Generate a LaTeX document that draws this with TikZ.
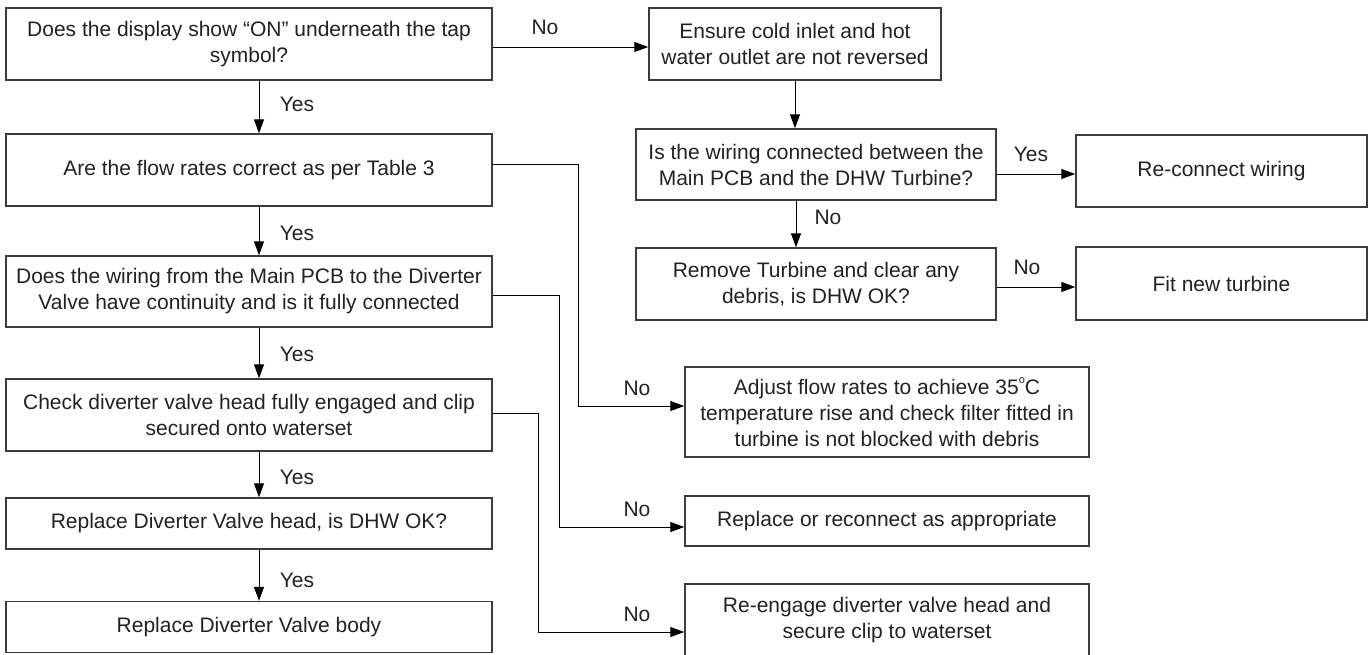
\documentclass[tikz,border=0pt]{standalone}
\usepackage{fontspec}
\setmainfont{Liberation Sans}
\usetikzlibrary{arrows.meta}
\definecolor{txt}{HTML}{222222}
\definecolor{brd}{HTML}{3C3C3C}
\tikzset{
  box/.style={draw=brd, line width=1.4pt, rectangle, inner sep=0pt, align=center, text=txt,
    font=\fontsize{21}{26}\selectfont},
  lab/.style={text=txt, font=\fontsize{21}{26}\selectfont, inner sep=0pt},
  arr/.style={draw=black, line width=1pt, -{Triangle[length=14pt,width=10pt]}},
}
\begin{document}
\begin{tikzpicture}[x=1pt,y=-1pt]
\useasboundingbox[fill=white] (0,0) rectangle (1369,654);
% left column
\node[box, minimum width=486pt, minimum height=72pt] (b1) at (249,44) {Does the display show “ON” underneath the tap\\symbol?};
\node[box, minimum width=486pt, minimum height=72pt] (b2) at (249,170) {Are the flow rates correct as per Table 3};
\node[box, minimum width=486pt, minimum height=71pt] (b3) at (249,291.5) {Does the wiring from the Main PCB to the Diverter\\Valve have continuity and is it fully connected};
\node[box, minimum width=486pt, minimum height=72pt] (b4) at (249,415) {Check diverter valve head fully engaged and clip\\secured onto waterset};
\node[box, minimum width=486pt, minimum height=51pt] (b5) at (249,523.5) {Replace Diverter Valve head, is DHW OK?};
\node[box, minimum width=486pt, minimum height=51pt] (b6) at (249,627) {Replace Diverter Valve body};
% upper right
\node[box, minimum width=292pt, minimum height=72pt] (en) at (795,44) {Ensure cold inlet and hot\\water outlet are not reversed};
\node[box, minimum width=360pt, minimum height=71pt] (wc) at (816,164.5) {Is the wiring connected between the\\Main PCB and the DHW Turbine?};
\node[box, minimum width=291pt, minimum height=72pt] (rc) at (1221.5,171) {Re-connect wiring};
\node[box, minimum width=360pt, minimum height=72pt] (rm) at (816,284) {Remove Turbine and clear any\\debris, is DHW OK?};
\node[box, minimum width=291pt, minimum height=73pt] (ft) at (1221.5,283.5) {Fit new turbine};
% lower right
\node[box, minimum width=404pt, minimum height=90pt] (ad) at (887,412) {Adjust flow rates to achieve 35\raisebox{0.5em}{\fontsize{11}{11}\selectfont o}C\\temperature rise and check filter fitted in\\turbine is not blocked with debris};
\node[box, minimum width=404pt, minimum height=50pt] (rp) at (887,521) {Replace or reconnect as appropriate};
\node[box, minimum width=404pt, minimum height=72pt] (re) at (887,620) {Re-engage diverter valve head and\\secure clip to waterset};
% vertical Yes arrows
\draw[arr] ([xshift=10pt]b1.south) -- ([xshift=10pt]b2.north);
\draw[arr] ([xshift=10pt]b2.south) -- ([xshift=10pt]b3.north);
\draw[arr] ([xshift=10pt]b3.south) -- ([xshift=10pt]b4.north);
\draw[arr] ([xshift=10pt]b4.south) -- ([xshift=10pt]b5.north);
\draw[arr] ([xshift=10pt]b5.south) -- ([xshift=10pt]b6.north);
\node[lab] (y1) at (297,104) {Yes};
\node[lab] (y2) at (297,233) {Yes};
\node[lab] (y3) at (297,354) {Yes};
\node[lab] (y4) at (297,477) {Yes};
\node[lab] (y5) at (297,580) {Yes};
% top No
\draw[arr] ([yshift=-3pt]b1.east) -- ([yshift=-3pt]b1.east -| en.west);
\node[lab] (n1) at (545,27) {No};
% right column
\draw[arr] (en.south) -- (en.south |- wc.north);
\draw[arr] ([yshift=-9.5pt]wc.east) -- ([yshift=-9.5pt]wc.east -| rc.west);
\node[lab] (y6) at (1031,154) {Yes};
\draw[arr] ([xshift=-20pt]wc.south) -- ([xshift=-20pt]rm.north);
\node[lab] (n2) at (828,217) {No};
\draw[arr] ([yshift=-3pt]rm.east) -- ([yshift=-3pt]rm.east -| ft.west);
\node[lab] (n3) at (1027,267) {No};
% elbow connectors
\coordinate (k2) at (578,0);
\coordinate (k3) at (559,0);
\coordinate (k4) at (538,0);
\draw[arr] ([yshift=6pt]b2.east) -| ([yshift=6pt]ad.west -| k2) -- ([yshift=6pt]ad.west);
\node[lab] (n4) at (637,388) {No};
\draw[arr] ([yshift=-3.5pt]b3.east) -| ([yshift=-6pt]rp.west -| k3) -- ([yshift=-6pt]rp.west);
\node[lab] (n5) at (637,509) {No};
\draw[arr] ([yshift=2pt]b4.east) -| ([yshift=-12pt]re.west -| k4) -- ([yshift=-12pt]re.west);
\node[lab] (n6) at (637,614) {No};
\end{tikzpicture}
\end{document}
